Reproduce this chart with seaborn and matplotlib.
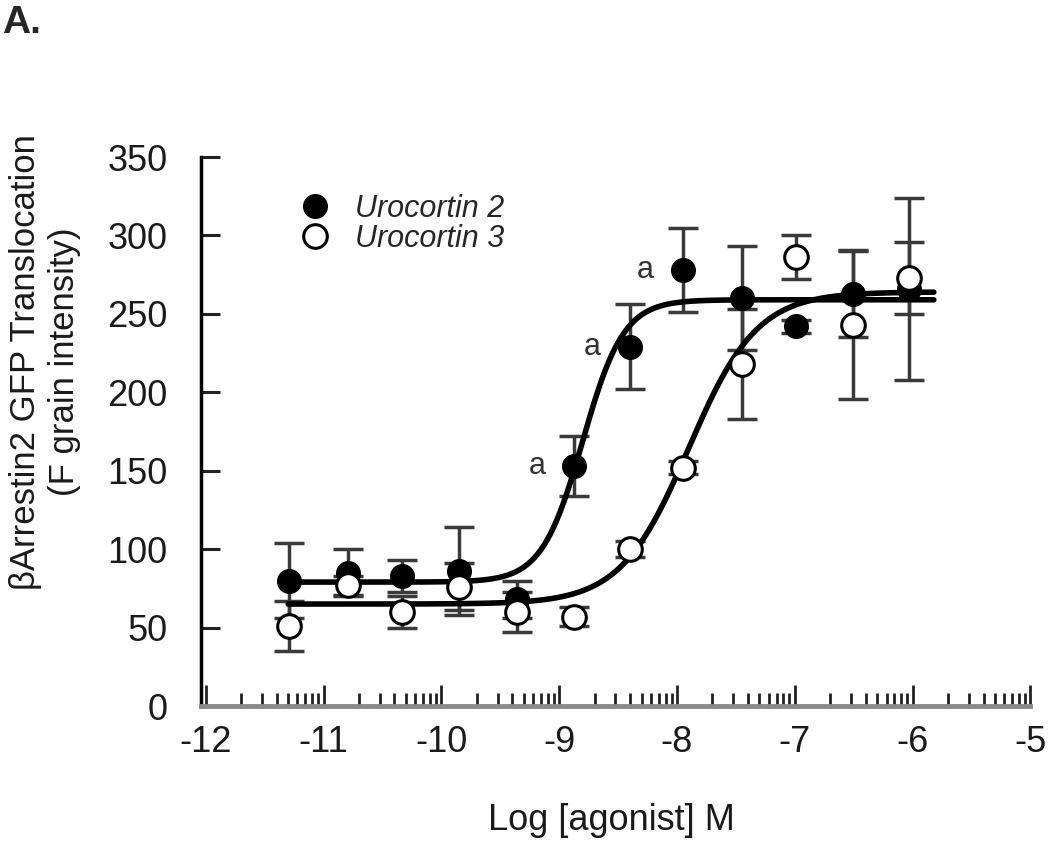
import numpy as np
import pandas as pd
import matplotlib
matplotlib.use('Agg')
import matplotlib.pyplot as plt
import seaborn as sns
from matplotlib.lines import Line2D

# data
log_conc = [-11.29, -10.79, -10.33, -9.85, -9.36, -8.87, -8.40, -7.95, -7.45, -6.99, -6.51, -6.03]
ucn2_mean = [80, 85, 83, 86, 68, 153, 229, 278, 260, 242, 263, 266]
ucn2_sem = [24, 15, 10, 28, 12, 19, 27, 27, 33, 4, 28, 58]
ucn3_mean = [51, 77, 60, 76, 60, 57, 100, 152, 218, 286, 243, 273]
ucn3_sem = [16, 6, 10, 15, 13, 6, 5, 4, 35, 14, 47, 23]

# fitted sigmoid parameters (bottom, top, logEC50, hill)
ucn2_fit = [79, 259, -8.8, 2.5]
ucn3_fit = [65, 264, -7.9, 1.5]

# points marked 'a'
sig_x = [-8.87, -8.40, -7.95]
sig_y = [153, 229, 278]

major_ticks = [-12, -11, -10, -9, -8, -7, -6, -5]
y_ticks = [0, 50, 100, 150, 200, 250, 300, 350]


def four_pl(x, bottom, top, logec50, hill):
    return bottom + (top - bottom) / (1 + 10 ** ((logec50 - x) * hill))


sns.set_style('ticks')
plt.rcParams['font.family'] = ['Liberation Sans', 'DejaVu Sans']
plt.rcParams['axes.unicode_minus'] = False

fig = plt.figure(figsize=(10.5, 8.43), dpi=100)
ax = fig.add_axes([0.1914, 0.1625, 0.7900, 0.6512])

xfit = np.linspace(-11.3, -5.82, 400)
curves = pd.concat([
    pd.DataFrame({'x': xfit, 'y': four_pl(xfit, *ucn2_fit), 'peptide': 'Urocortin 2'}),
    pd.DataFrame({'x': xfit, 'y': four_pl(xfit, *ucn3_fit), 'peptide': 'Urocortin 3'}),
])

# error bars
ax.errorbar(log_conc, ucn2_mean, yerr=ucn2_sem, fmt='none', ecolor='#3a3a3a',
            elinewidth=2.5, capsize=10.5, capthick=2.5, zorder=2)
ax.errorbar(log_conc, ucn3_mean, yerr=ucn3_sem, fmt='none', ecolor='#3a3a3a',
            elinewidth=2.5, capsize=10.5, capthick=2.5, zorder=2)

sns.lineplot(data=curves, x='x', y='y', hue='peptide', palette=['black', 'black'],
             linewidth=4, legend=False, ax=ax, zorder=3)

sns.scatterplot(x=log_conc, y=ucn2_mean, s=289, color='black', edgecolor='black',
                linewidth=1, ax=ax, zorder=4, clip_on=False)
sns.scatterplot(x=log_conc, y=ucn3_mean, s=289, color='white', edgecolor='black',
                linewidth=2.2, ax=ax, zorder=5, clip_on=False)

for x, y in zip(sig_x, sig_y):
    ax.annotate('a', (x, y), xytext=(-27, 0), textcoords='offset points',
                ha='center', va='center', fontsize=22, color='#333333')

# legend
h2 = Line2D([], [], ls='none', marker='o', ms=17, mfc='black', mec='black')
h3 = Line2D([], [], ls='none', marker='o', ms=17, mfc='white', mec='black', mew=2.2)
ax.legend([h2, h3], ['Urocortin 2', 'Urocortin 3'], loc='upper left',
          bbox_to_anchor=(0.1190, 0.9335), frameon=False,
          prop={'style': 'italic', 'size': 22}, handlelength=1.0,
          handletextpad=0.8, labelspacing=0.0, borderpad=0, borderaxespad=0)

# axes
ax.set_xlim(-12.04, -5)
ax.set_ylim(0, 350)
ax.set_xticks(major_ticks)
ax.set_xticks([d + np.log10(k) for d in range(-12, -5) for k in range(2, 10)], minor=True)
ax.set_yticks(y_ticks)
ax.tick_params(axis='x', which='major', direction='in', length=15, width=2,
               color='#222222', labelsize=26, pad=14, labelcolor='#1a1a1a')
ax.tick_params(axis='x', which='minor', direction='in', length=9.5, width=2, color='#222222')
ax.tick_params(axis='y', direction='in', length=14, width=2.2, color='#222222',
               labelsize=26, pad=24, labelcolor='#1a1a1a')

sns.despine(ax=ax)
ax.spines['left'].set_linewidth(2.5)
ax.spines['left'].set_color('black')
ax.spines['bottom'].set_linewidth(3.5)
ax.spines['bottom'].set_color('#8a8a8a')

ax.set_xlabel('Log [agonist] M', fontsize=26, color='#1a1a1a')
ax.xaxis.set_label_coords(0.4952, -0.2259)
ax.xaxis.label.set_verticalalignment('baseline')
ax.set_ylabel('')

fig.text(0.0429, 0.5706, 'βArrestin2 GFP Translocation\n(F grain intensity)',
         rotation=90, ha='center', va='center', multialignment='center',
         fontsize=25, color='#1a1a1a', linespacing=1.2)

fig.text(0.002, 0.9609, 'A.', fontsize=28, fontweight='bold', va='baseline', ha='left')

fig.savefig('out.png', dpi=100)
